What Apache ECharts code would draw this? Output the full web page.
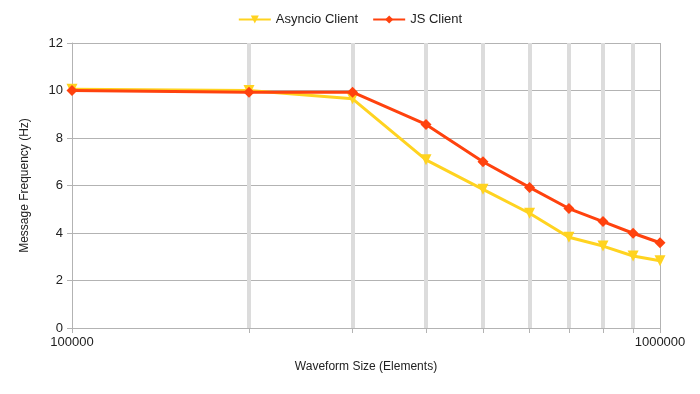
<!DOCTYPE html>
<html><head><meta charset="utf-8">
<script src="https://cdn.jsdelivr.net/npm/echarts@6/dist/echarts.min.js"></script>
<style>html,body{margin:0;padding:0;background:#fff}#c{width:700px;height:394px}</style>
</head><body><div id="c"></div>
<script>
const sizes = [100000, 200000, 300000, 400000, 500000, 600000, 700000, 800000, 900000, 1000000];
const asyncioClient = [10.05, 10.0, 9.65, 7.08, 5.84, 4.83, 3.82, 3.45, 3.03, 2.83];
const jsClient = [10.0, 9.93, 9.93, 8.57, 7.0, 5.92, 5.03, 4.48, 3.99, 3.59];
const yTicks = [0, 2, 4, 6, 8, 10, 12];

const font = 'Liberation Sans, Arial, sans-serif';
const chart = echarts.init(document.getElementById('c'), null, {renderer: 'canvas'});
const pair = (xs, ys) => xs.map((x, i) => [x, ys[i]]);

chart.setOption({
  animation: false,
  textStyle: {fontFamily: font},
  legend: {
    top: 8, left: 'center', itemGap: 14, itemWidth: 32, itemHeight: 10,
    textStyle: {fontFamily: font, fontSize: 13, color: '#222'},
    data: ['Asyncio Client', 'JS Client']
  },
  grid: {left: 72, right: 40, top: 43, bottom: 66},
  xAxis: {
    type: 'log', logBase: 10, min: sizes[0], max: sizes[sizes.length - 1],
    name: 'Waveform Size (Elements)', nameLocation: 'middle', nameGap: 33,
    nameTextStyle: {fontFamily: font, fontSize: 12, color: '#222'},
    axisLine: {show: true, lineStyle: {color: '#b3b3b3', width: 1}},
    axisTick: {show: true, length: 5, lineStyle: {color: '#b3b3b3'}},
    minorTick: {show: true, splitNumber: 9, length: 5, lineStyle: {color: '#b3b3b3'}},
    minorSplitLine: {show: true, lineStyle: {color: '#dcdcdc', width: 4}},
    axisLabel: {fontFamily: font, fontSize: 13, color: '#222', margin: 8, formatter: v => String(Math.round(v))},
    splitLine: {show: true, lineStyle: {color: '#b3b3b3', width: 1}}
  },
  yAxis: {
    type: 'value', min: yTicks[0], max: yTicks[yTicks.length - 1], interval: 2,
    name: 'Message Frequency (Hz)', nameLocation: 'middle', nameGap: 41,
    nameTextStyle: {fontFamily: font, fontSize: 12, color: '#222'},
    axisLine: {show: true, lineStyle: {color: '#b3b3b3', width: 1}},
    axisTick: {show: true, length: 5, lineStyle: {color: '#b3b3b3'}},
    axisLabel: {fontFamily: font, fontSize: 13, color: '#222', margin: 9},
    splitLine: {show: true, lineStyle: {color: '#b3b3b3', width: 1}}
  },
  series: [
    {
      name: 'Asyncio Client', type: 'line', z: 3,
      data: pair(sizes, asyncioClient),
      symbol: 'triangle', symbolRotate: 180, symbolSize: 11, showAllSymbol: true,
      itemStyle: {color: '#ffd320'},
      lineStyle: {color: '#ffd320', width: 3}
    },
    {
      name: 'JS Client', type: 'line', z: 4,
      data: pair(sizes, jsClient),
      symbol: 'diamond', symbolSize: 11, showAllSymbol: true,
      itemStyle: {color: '#ff420e'},
      lineStyle: {color: '#ff420e', width: 3}
    }
  ]
});
</script></body></html>
